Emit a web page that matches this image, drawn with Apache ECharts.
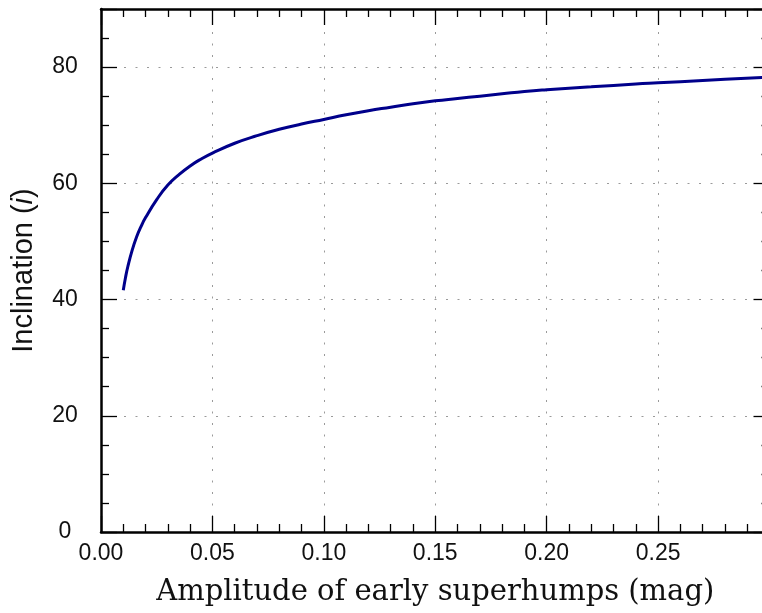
<!DOCTYPE html>
<html>
<head>
<meta charset="utf-8">
<script src="https://cdn.jsdelivr.net/npm/echarts@6/dist/echarts.min.js"></script>
<style>
html,body{margin:0;padding:0;background:#fff;}
#chart{width:762px;height:613px;}
</style>
</head>
<body>
<div id="chart"></div>
<script>
// Data
const amplitude = [0.010, 0.011, 0.012, 0.014, 0.016, 0.018, 0.020, 0.025, 0.030, 0.035,
  0.040, 0.045, 0.050, 0.060, 0.070, 0.080, 0.090, 0.100, 0.110, 0.120,
  0.130, 0.140, 0.150, 0.160, 0.170, 0.180, 0.190, 0.200, 0.220, 0.240,
  0.250, 0.260, 0.280, 0.300];
const inclination = [41.6, 43.8, 45.6, 48.5, 50.8, 52.6, 54.1, 57.2, 59.7, 61.5,
  63.0, 64.2, 65.2, 66.9, 68.2, 69.3, 70.2, 71.0, 71.8, 72.5,
  73.1, 73.7, 74.2, 74.6, 75.0, 75.4, 75.8, 76.1, 76.6, 77.1,
  77.3, 77.5, 77.9, 78.3];
const xTicks = [0, 0.3, 0.05];   // min, max, interval
const yTicks = [0, 90, 20];
const xTitle = 'Amplitude of early superhumps (mag)';

const points = amplitude.map((a, i) => [a, inclination[i]]);

const chart = echarts.init(document.getElementById('chart'), null, {renderer: 'canvas'});
const tickStyle = {color: '#000', width: 1.3};
const gridStyle = {color: '#9a9a9a', width: 1, type: [2, 9.5]};
const sans = 'Liberation Sans, Arial, sans-serif';

chart.setOption({
  animation: false,
  backgroundColor: '#fff',
  grid: {left: 101, top: 9, right: -7.5, bottom: 81, containLabel: false, outerBoundsMode: 'none'},
  xAxis: [{
    type: 'value', min: xTicks[0], max: xTicks[1], interval: xTicks[2], position: 'bottom',
    name: xTitle, nameLocation: 'middle', nameGap: 46,
    nameTextStyle: {fontFamily: 'DejaVu Serif, serif', fontSize: 29, color: '#111'},
    axisLine: {show: true, onZero: false, lineStyle: {color: '#000', width: 2.5}},
    axisTick: {show: true, inside: true, length: 16, lineStyle: tickStyle},
    minorTick: {show: true, splitNumber: 5, length: 8, lineStyle: tickStyle},
    axisLabel: {fontFamily: sans, fontSize: 23, color: '#111', margin: 10, showMaxLabel: false,
      formatter: v => v.toFixed(2)},
    splitLine: {show: true, lineStyle: gridStyle}
  }, {
    type: 'value', min: xTicks[0], max: xTicks[1], interval: xTicks[2], position: 'top',
    axisLine: {show: true, onZero: false, lineStyle: {color: '#000', width: 2.5}},
    axisTick: {show: true, inside: true, length: 16, lineStyle: tickStyle},
    minorTick: {show: true, splitNumber: 5, length: 8, lineStyle: tickStyle},
    axisLabel: {show: false}, splitLine: {show: false}
  }],
  yAxis: [{
    type: 'value', min: yTicks[0], max: yTicks[1], interval: yTicks[2], position: 'left',
    name: 'Inclination ({it|i})', nameLocation: 'middle', nameGap: 63, nameRotate: 90,
    nameTextStyle: {fontFamily: sans, fontSize: 29, color: '#111',
      rich: {it: {fontFamily: sans, fontSize: 29, fontStyle: 'italic', color: '#111'}}},
    axisLine: {show: true, onZero: false, lineStyle: {color: '#000', width: 2.5}},
    axisTick: {show: true, inside: true, length: 16, lineStyle: tickStyle},
    minorTick: {show: true, splitNumber: 4, length: 8, lineStyle: tickStyle},
    axisLabel: {fontFamily: sans, fontSize: 23, color: '#111', margin: 36, align: 'center',
      showMaxLabel: false},
    splitLine: {show: true, lineStyle: gridStyle}
  }, {
    type: 'value', min: yTicks[0], max: yTicks[1], interval: yTicks[2], position: 'right',
    axisLine: {show: true, onZero: false, lineStyle: {color: '#000', width: 2.5}},
    axisTick: {show: true, inside: true, length: 16, lineStyle: tickStyle},
    minorTick: {show: true, splitNumber: 4, length: 8, lineStyle: tickStyle},
    axisLabel: {show: false}, splitLine: {show: false}
  }],
  series: [{
    type: 'line', xAxisIndex: 0, yAxisIndex: 0, data: points,
    smooth: 0.5, showSymbol: false, clip: true,
    lineStyle: {color: '#00008b', width: 3}
  }]
});
</script>
</body>
</html>
